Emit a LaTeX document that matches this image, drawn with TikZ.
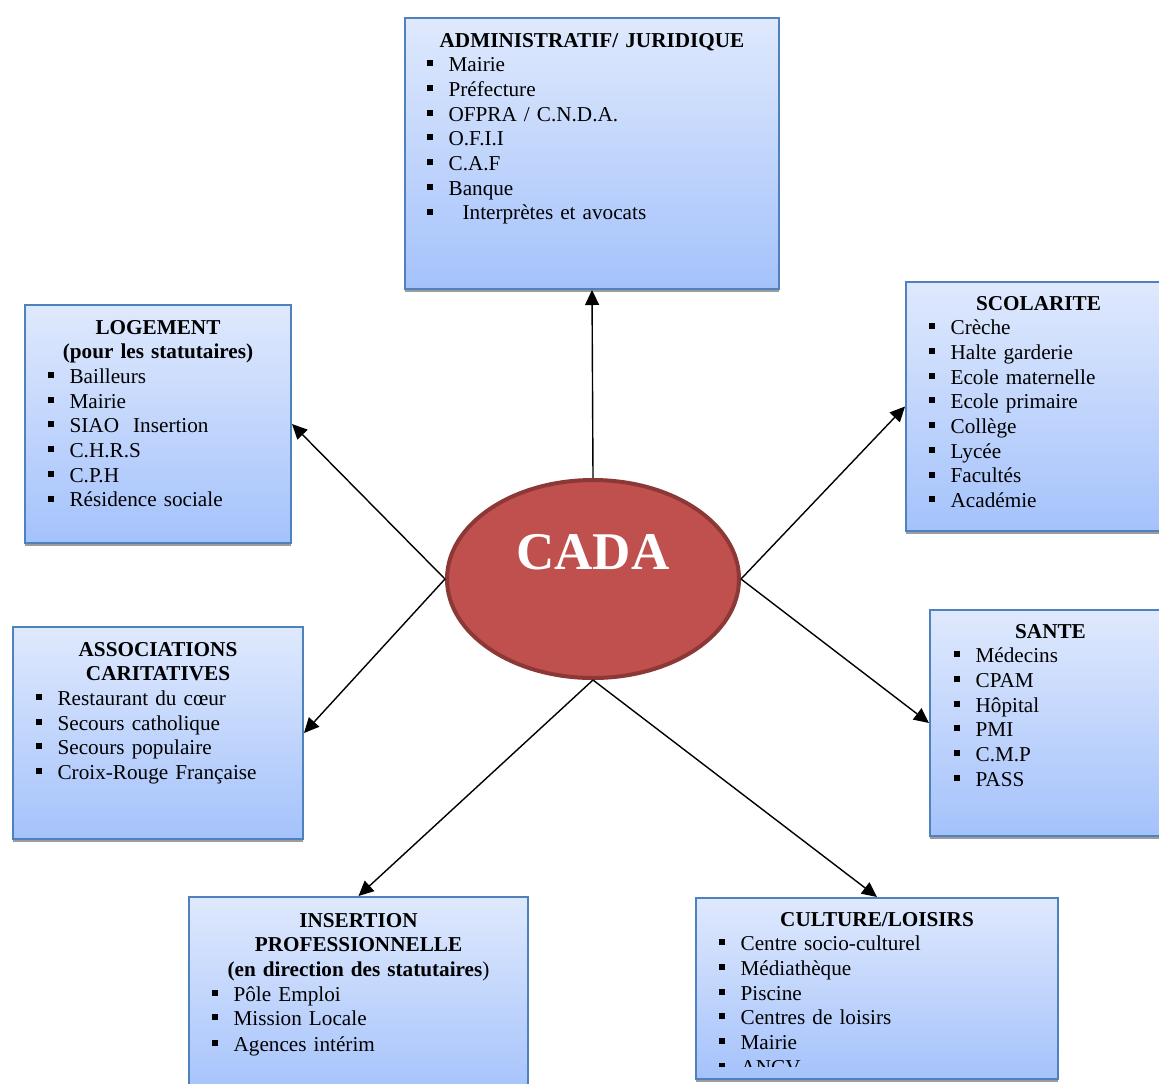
\documentclass[tikz,border=0pt]{standalone}
\usepackage{fontspec}
\setmainfont{Liberation Serif}
\usetikzlibrary{shapes,shadows,arrows.meta}
\usepackage{xcolor}

\definecolor{bordure}{HTML}{4F81BD}
\definecolor{haut}{HTML}{DFE9FD}
\definecolor{bas}{HTML}{A4C2FB}
\definecolor{ombre}{HTML}{9C9C9C}
\definecolor{rouge}{HTML}{C0504D}
\definecolor{rougefonce}{HTML}{8C3836}

\newcommand{\puce}[1]{\makebox[\linewidth][l]{\rule[2.7pt]{3pt}{3pt}\hspace{7.8pt}#1}}

\begin{document}
\begin{tikzpicture}[x=0.5pt,y=-0.5pt,
    boite/.style={draw=bordure, line width=1pt, top color=haut, bottom color=bas,
        inner sep=0pt, anchor=north west,
        drop shadow={shadow xshift=0pt, shadow yshift=-1.5pt, fill=ombre, opacity=1}},
    liste/.style={anchor=base, inner sep=0pt, align=center,
        font=\fontsize{10.6}{12.35}\selectfont},
    fleche/.style={-{Triangle[length=7.5pt,width=7pt]}, line width=0.7pt}]
    \clip (0,0) rectangle (1159,1083);

    % les boites
    \node[boite, minimum width=187pt, minimum height=135.5pt] (admin) at (404,17) {};
    \node[boite, minimum width=133pt, minimum height=119pt] (logement) at (24,304) {};
    \node[boite, minimum width=132.5pt, minimum height=124.5pt] (scolarite) at (905,281) {};
    \node[boite, minimum width=145pt, minimum height=106pt] (assoc) at (12,626) {};
    \node[boite, minimum width=120.5pt, minimum height=113pt] (sante) at (929,609) {};
    \node[boite, minimum width=169.5pt, minimum height=100pt] (insertion) at (188,896) {};
    \node[boite, minimum width=181pt, minimum height=90.5pt] (culture) at (695,897) {};

    % les textes
    \node[liste, text width=165pt] (admintxt) at ([yshift=-15pt]admin.north)
        {\textbf{ADMINISTRATIF/ JURIDIQUE}\\ \puce{Mairie}\\ \puce{Préfecture}\\
         \puce{OFPRA / C.N.D.A.}\\ \puce{O.F.I.I}\\ \puce{C.A.F}\\ \puce{Banque}\\
         \puce{\hspace{7pt}Interprètes et avocats}};
    \node[liste, text width=110pt] (logementtxt) at ([yshift=-15pt]logement.north)
        {\textbf{LOGEMENT}\\ \textbf{(pour les statutaires)}\\ \puce{Bailleurs}\\
         \puce{Mairie}\\ \puce{SIAO\ \ Insertion}\\ \puce{C.H.R.S}\\ \puce{C.P.H}\\
         \puce{Résidence sociale}};
    \node[liste, text width=109.5pt] (scolaritetxt) at ([yshift=-14.5pt]scolarite.north)
        {\textbf{SCOLARITE}\\ \puce{Crèche}\\ \puce{Halte garderie}\\
         \puce{Ecole maternelle}\\ \puce{Ecole primaire}\\ \puce{Collège}\\
         \puce{Lycée}\\ \puce{Facultés}\\ \puce{Académie}};
    \node[liste, text width=122pt] (assoctxt) at ([yshift=-15pt]assoc.north)
        {\textbf{ASSOCIATIONS}\\ \textbf{CARITATIVES}\\ \puce{Restaurant du cœur}\\
         \puce{Secours catholique}\\ \puce{Secours populaire}\\
         \puce{Croix-Rouge Française}};
    \node[liste, text width=96.5pt] (santetxt) at ([yshift=-14.5pt]sante.north)
        {\textbf{SANTE}\\ \puce{Médecins}\\ \puce{CPAM}\\ \puce{Hôpital}\\
         \puce{PMI}\\ \puce{C.M.P}\\ \puce{PASS}};
    \node[liste, text width=146.5pt] (insertiontxt) at ([yshift=-15.5pt]insertion.north)
        {\textbf{INSERTION}\\ \textbf{PROFESSIONNELLE}\\
         \textbf{(en direction des statutaires})\\ \puce{Pôle Emploi}\\
         \puce{Mission Locale}\\[0.6pt] \puce{Agences intérim}};
    \begin{scope}
        \clip (695,897) rectangle (1057,1066);
        \node[liste, text width=158pt] (culturetxt) at ([yshift=-14.5pt]culture.north)
            {\textbf{CULTURE/LOISIRS}\\ \puce{Centre socio-culturel}\\
             \puce{Médiathèque}\\ \puce{Piscine}\\ \puce{Centres de loisirs}\\
             \puce{Mairie}\\ \puce{ANCV}};
    \end{scope}

    % le centre
    \node[ellipse, draw=rougefonce, line width=2pt, fill=rouge, inner sep=0pt,
        minimum width=146pt, minimum height=99pt] (cada) at (593,579) {};
    \node[text=white, font=\fontsize{26.5}{28}\selectfont\bfseries] (cadatxt)
        at ([yshift=13.5pt]cada.center) {CADA};

    % les fleches
    \draw[fleche] (cada.north) -- (admin.south);
    \draw[fleche] (cada.west) -- (logement.east);
    \draw[fleche] (cada.west) -- (assoc.east);
    \draw[fleche] (cada.east) -- (scolarite.west);
    \draw[fleche] (cada.east) -- (sante.west);
    \draw[fleche] (cada.south) -- (insertion.north);
    \draw[fleche] (cada.south) -- (culture.north);
\end{tikzpicture}
\end{document}
